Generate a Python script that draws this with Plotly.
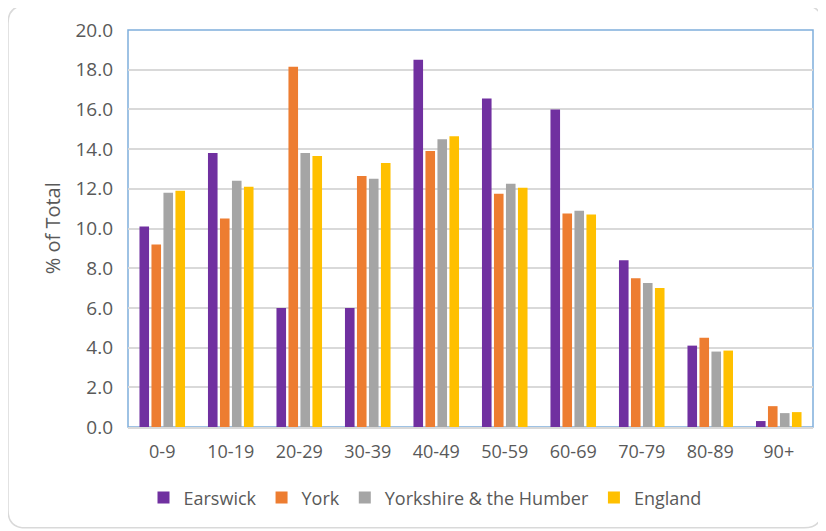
import plotly.graph_objects as go

categories = ["0-9", "10-19", "20-29", "30-39", "40-49", "50-59", "60-69", "70-79", "80-89", "90+"]
earswick = [10.1, 13.8, 6.0, 6.0, 18.5, 16.55, 16.0, 8.4, 4.1, 0.3]
york = [9.2, 10.5, 18.15, 12.65, 13.9, 11.75, 10.75, 7.5, 4.5, 1.05]
yorkshire = [11.8, 12.4, 13.8, 12.5, 14.5, 12.25, 10.9, 7.25, 3.8, 0.7]
england = [11.9, 12.1, 13.65, 13.3, 14.65, 12.05, 10.7, 7.0, 3.85, 0.75]
series_names = ["Earswick", "York", "Yorkshire & the Humber", "England"]
colors = ["#7030A0", "#ED7D31", "#A5A5A5", "#FFC000"]
y_ticks = [0, 2, 4, 6, 8, 10, 12, 14, 16, 18, 20]

fig = go.Figure()
for name, vals, col in zip(series_names, [earswick, york, yorkshire, england], colors):
    fig.add_trace(go.Bar(x=categories, y=vals, name=name, marker=dict(color=col, line=dict(width=0))))

W, H = 826, 531
OFF = 8  # page body margin offset
L, R, T, B = 128 - OFF, 826 - 813 + OFF, 29.5 - OFF, 531 - 427 + OFF
pw, ph = W - L - R, H - T - B

def px(xp):
    return (xp - OFF - L) / pw

def py(yp):
    return (H - B - (yp - OFF)) / ph

# rounded outer border
x0, x1, y0, y1 = px(8), px(822), py(528), py(5)
rx, ry = 18 / pw, 18 / ph
path = (f"M {x0+rx},{y1} L {x1-rx},{y1} Q {x1},{y1} {x1},{y1-ry} "
        f"L {x1},{y0+ry} Q {x1},{y0} {x1-rx},{y0} L {x0+rx},{y0} "
        f"Q {x0},{y0} {x0},{y0+ry} L {x0},{y1-ry} Q {x0},{y1} {x0+rx},{y1} Z")

fig.update_layout(
    width=W, height=H,
    margin=dict(l=L, r=R, t=T, b=B, autoexpand=False),
    paper_bgcolor="white", plot_bgcolor="white",
    barmode="group", bargap=0.3, bargroupgap=0.2,
    font=dict(family="Open Sans", color="#595959", size=17),
    showlegend=True,
    legend=dict(orientation="h", x=px(425), xanchor="center", y=py(498), yanchor="middle",
                font=dict(size=18, color="#595959"), itemwidth=30, traceorder="normal"),
    xaxis=dict(showgrid=False, showline=True, linecolor="#D9D9D9", linewidth=1.5,
               ticks="", tickfont=dict(size=18), ticklabelstandoff=8),
    yaxis=dict(range=[0, 20], tickvals=y_ticks, tickformat=".1f", showgrid=True,
               gridcolor="#D9D9D9", gridwidth=1.5, zeroline=False, showline=False,
               ticks="", tickfont=dict(size=19), ticklabelstandoff=14),
    shapes=[
        dict(type="path", xref="paper", yref="paper", path=path,
             line=dict(color="#D9D9D9", width=1.5), fillcolor="rgba(0,0,0,0)", layer="below"),
        dict(type="rect", xref="paper", yref="paper", x0=0, x1=1, y0=0, y1=1,
             line=dict(color="#7FAEDC", width=1.5), fillcolor="rgba(0,0,0,0)", layer="below"),
    ],
    annotations=[dict(text="% of Total", xref="paper", yref="paper", x=px(52), y=py(228),
                      textangle=-90, showarrow=False, font=dict(size=20, color="#595959"),
                      xanchor="center", yanchor="middle")],
)

fig.write_html("out.html")
